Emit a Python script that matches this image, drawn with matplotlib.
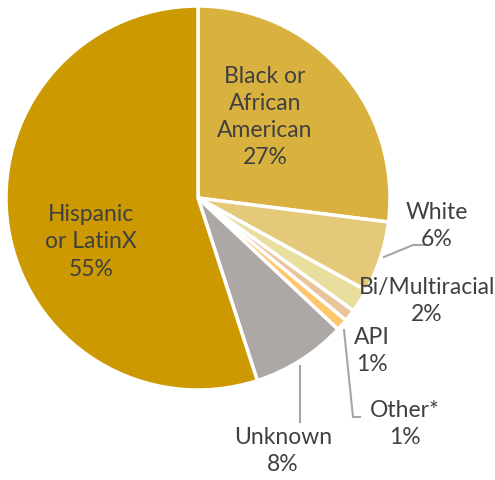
import matplotlib.pyplot as plt

# ethnicity breakdown, clockwise from the top
groups = ['Black or\nAfrican\nAmerican', 'White', 'Bi/Multiracial', 'API', 'Other*', 'Unknown', 'Hispanic\nor LatinX']
shares = [27, 6, 2, 1, 1, 8, 55]
colors = ['#D8B13F', '#E5C97B', '#E8DF9F', '#EAC49A', '#FFC76B', '#ADA8A5', '#CC9900']

plt.rcParams['font.family'] = ['Lato', 'DejaVu Sans']

H = 480  # figure height in px, to flip pixel y to data y

fig = plt.figure(figsize=(4.95, 4.8), dpi=100)
ax = fig.add_axes([0, 0, 1, 1])
ax.pie(shares, colors=colors, startangle=90, counterclock=False,
       center=(198, H - 198), radius=192, frame=True,
       wedgeprops=dict(edgecolor='white', linewidth=2.5))
ax.set_xlim(0, 495)
ax.set_ylim(0, H)
ax.set_aspect('equal')
ax.axis('off')

txt = dict(fontsize=16.5, color='#404040', ha='center', va='center', linespacing=1.36)
# label positions (pixel space)
pos = [(265, 117), (437, 226), (427, 301), (372, 351), (405, 424), (283, 451), (91, 242)]
for g, s, (x, y) in zip(groups, shares, pos):
    ax.text(x, H - y, f'{g}\n{s}%', **txt)

# leader lines
line = dict(color='#A6A6A6', linewidth=1.5)
ax.plot([384, 413, 425], [H - 257, H - 245, H - 245], **line)
ax.plot([344, 353, 360], [H - 330, H - 417, H - 417], **line)
ax.plot([300, 300], [H - 366, H - 422], **line)

fig.savefig('out.png', dpi=100)
